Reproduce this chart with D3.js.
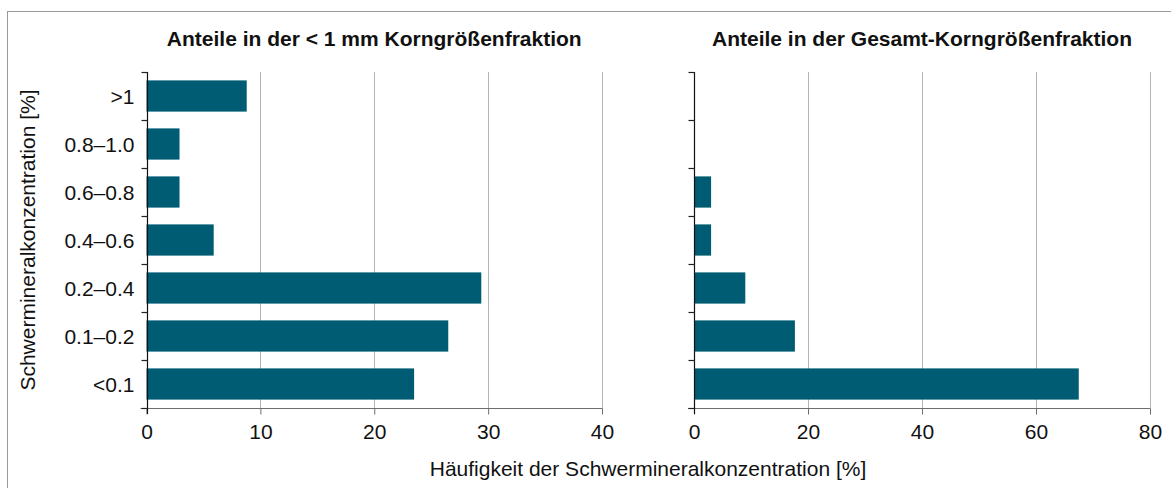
<!DOCTYPE html>
<html>
<head>
<meta charset="utf-8">
<script src="https://cdn.jsdelivr.net/npm/d3@7"></script>
<style>
  html, body { margin: 0; padding: 0; background: #fff; }
  svg { display: block; font-family: Arial, "Liberation Sans", sans-serif; }
</style>
</head>
<body>
<svg id="chart" width="1171" height="488"></svg>
<script>
// Heavy-mineral concentration classes (top to bottom)
const categories = [">1", "0.8–1.0", "0.6–0.8", "0.4–0.6", "0.2–0.4", "0.1–0.2", "<0.1"];
// Frequency [%] in the < 1 mm grain-size fraction
const fineFraction = [8.8, 2.9, 2.9, 5.9, 29.4, 26.5, 23.5];
// Frequency [%] in the total grain-size fraction
const totalFraction = [0, 0, 3, 3, 9, 17.7, 67.5];
const leftTicks = [0, 10, 20, 30, 40];
const rightTicks = [0, 20, 40, 60, 80];

const titles = ["Anteile in der < 1 mm Korngrößenfraktion", "Anteile in der Gesamt-Korngrößenfraktion"];
const yTitle = "Schwermineralkonzentration [%]";
const xTitle = "Häufigkeit der Schwermineralkonzentration [%]";

const barColor = "#005c73";
const fontSize = 21;
const svg = d3.select("#chart");

// outer frame (open to the right and bottom)
svg.append("rect")
  .attr("x", 7.5).attr("y", 11.5)
  .attr("width", 1200).attr("height", 500)
  .attr("fill", "none").attr("stroke", "#9a9a9a").attr("stroke-width", 1);

const plotTop = 72, plotBottom = 408;
const y = d3.scaleBand().domain(categories).range([plotTop, plotBottom]).paddingInner(0.35).paddingOuter(0.175);
const yEdges = d3.range(categories.length + 1).map(i => plotTop + i * (plotBottom - plotTop) / categories.length);

function panel(values, domainMax, ticks, x0, x1, title, showLabels) {
  const x = d3.scaleLinear().domain([0, domainMax]).range([x0, x1]);
  const g = svg.append("g");

  // vertical grid
  g.selectAll("line.grid").data(ticks.filter(t => t > 0)).join("line")
    .attr("class", "grid")
    .attr("x1", d => Math.round(x(d)) + 0.5).attr("x2", d => Math.round(x(d)) + 0.5)
    .attr("y1", plotTop).attr("y2", plotBottom)
    .attr("stroke", "#b4b4b4").attr("stroke-width", 1);

  // bars
  g.selectAll("rect.bar").data(categories).join("rect")
    .attr("class", "bar")
    .attr("x", x(0))
    .attr("y", d => y(d))
    .attr("width", (d, i) => x(values[i]) - x(0))
    .attr("height", y.bandwidth())
    .attr("fill", barColor);

  // x axis
  const xAxis = d3.axisBottom(x).tickValues(ticks).tickSize(6).tickPadding(10).tickFormat(d3.format("d"));
  const ga = g.append("g").attr("transform", `translate(0,${plotBottom + 0.5})`).call(xAxis);
  ga.select(".domain").attr("stroke", "#6e6e6e").attr("d", `M${x0 - 6},0H${x1 + 0.5}`);
  ga.selectAll(".tick line").attr("stroke", "#6e6e6e");
  ga.selectAll(".tick text").attr("font-size", fontSize).attr("fill", "#111")
    .attr("font-family", "Arial, 'Liberation Sans', sans-serif");

  // y axis line and boundary ticks
  const xa = Math.round(x(0)) + 0.5;
  g.append("line").attr("x1", xa).attr("x2", xa).attr("y1", plotTop).attr("y2", plotBottom + 6)
    .attr("stroke", "#111").attr("stroke-width", 1.2);
  g.selectAll("line.ytick").data(yEdges).join("line")
    .attr("class", "ytick")
    .attr("x1", xa - 6).attr("x2", xa)
    .attr("y1", d => Math.round(d) + 0.5).attr("y2", d => Math.round(d) + 0.5)
    .attr("stroke", "#222").attr("stroke-width", 1.2);

  if (showLabels) {
    g.selectAll("text.ylab").data(categories).join("text")
      .attr("class", "ylab")
      .attr("x", xa - 13)
      .attr("y", d => y(d) + y.bandwidth() / 2)
      .attr("dy", "0.36em")
      .attr("text-anchor", "end")
      .attr("font-size", fontSize).attr("fill", "#111")
      .text(d => d);
  }

  // panel title
  g.append("text")
    .attr("x", (x0 + x1) / 2).attr("y", 46)
    .attr("text-anchor", "middle")
    .attr("font-size", fontSize).attr("font-weight", "bold").attr("fill", "#111")
    .text(title);
  return x;
}

panel(fineFraction, 40, leftTicks, 146.5, 602, titles[0], true);
panel(totalFraction, 80, rightTicks, 694, 1150, titles[1], false);

// shared axis titles
svg.append("text")
  .attr("x", 648).attr("y", 476)
  .attr("text-anchor", "middle")
  .attr("font-size", fontSize).attr("fill", "#111")
  .text(xTitle);

svg.append("text")
  .attr("transform", `translate(35,${(plotTop + plotBottom) / 2}) rotate(-90)`)
  .attr("text-anchor", "middle")
  .attr("font-size", fontSize).attr("fill", "#111")
  .text(yTitle);
</script>
</body>
</html>
